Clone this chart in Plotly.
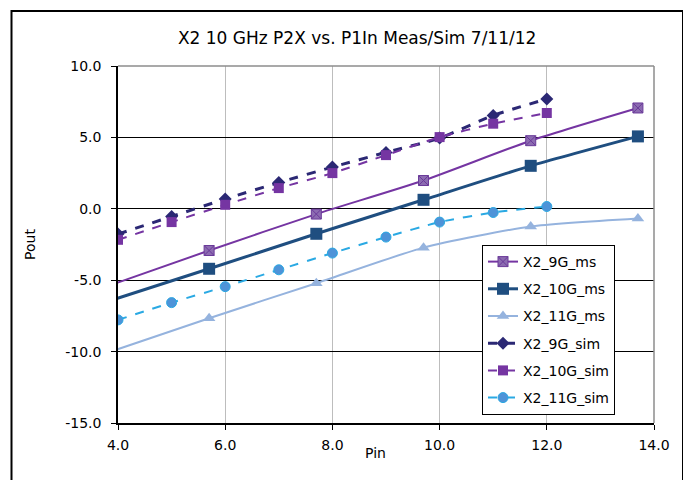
import plotly.graph_objects as go

# Measured data (first point at 3.7 lies left of the axis minimum and is clipped)
x_ms = [3.7, 5.7, 7.7, 9.7, 11.7, 13.7]
y_9g_ms = [-5.56, -2.92, -0.37, 1.98, 4.77, 7.06]
y_10g_ms = [-6.62, -4.20, -1.75, 0.63, 3.01, 5.07]
y_11g_ms = [-10.21, -7.66, -5.21, -2.72, -1.24, -0.68]

# Simulated data
x_sim = [4, 5, 6, 7, 8, 9, 10, 11, 12]
y_9g_sim = [-1.77, -0.54, 0.68, 1.84, 2.92, 3.95, 4.95, 6.54, 7.69]
y_10g_sim = [-2.17, -0.93, 0.28, 1.45, 2.50, 3.76, 5.02, 5.96, 6.71]
y_11g_sim = [-7.78, -6.57, -5.45, -4.27, -3.10, -1.98, -0.93, -0.26, 0.16]

x_ticks = [4, 6, 8, 10, 12, 14]
x_tick_labels = ["4.0", "6.0", "8.0", "10.0", "12.0", "14.0"]
y_ticks = [-15, -10, -5, 0, 5, 10]
y_tick_labels = ["-15.0", "-10.0", "-5.0", "0.0", "5.0", "10.0"]

FONT = "DejaVu Sans"

fig = go.Figure()

series = [
    ("X2_9G_ms", x_ms, y_9g_ms, dict(color="#7535A2", width=2, dash="solid"),
     dict(symbol="square-x", size=10, color="#8C6BB1", line=dict(color="#6A3A99", width=1))),
    ("X2_10G_ms", x_ms, y_10g_ms, dict(color="#1F4E80", width=3, dash="solid"),
     dict(symbol="square", size=12, color="#1F4E80", line=dict(color="#1F4E80", width=0))),
    ("X2_11G_ms", x_ms, y_11g_ms, dict(color="#95B3DE", width=2, dash="solid"),
     dict(symbol="triangle-up", size=11, color="#95B3DE", line=dict(width=0))),
    ("X2_9G_sim", x_sim, y_9g_sim, dict(color="#2B2874", width=3, dash="dash"),
     dict(symbol="diamond", size=10, color="#2B2874", line=dict(width=0))),
    ("X2_10G_sim", x_sim, y_10g_sim, dict(color="#7535A2", width=2, dash="dash"),
     dict(symbol="square", size=10, color="#7535A2", line=dict(width=0))),
    ("X2_11G_sim", x_sim, y_11g_sim, dict(color="#2AA9E3", width=2, dash="dash"),
     dict(symbol="circle", size=10, color="#4E93D8", line=dict(color="#2AA9E3", width=1))),
]

for i, (name, xs, ys, line, marker) in enumerate(series):
    fig.add_trace(go.Scatter(
        x=xs, y=ys, name=name, mode="lines+markers",
        line=dict(shape="spline", smoothing=0.6, **line),
        marker=marker, legendgroup=f"g{i}",
    ))

# The page body has an 8px margin, so work in reference pixels shifted by 8.
OFF = 8
W, H = 691 - OFF, 480 - OFF
L, T = 118 - OFF, 66 - OFF
R = W - (654 - OFF)
B = H - (423 - OFF)
pw, ph = W - L - R, H - T - B

def px_x(p):
    return (p - OFF - L) / pw

def px_y(p):
    return (H - B - (p - OFF)) / ph

fig.update_layout(
    width=W, height=H,
    margin=dict(l=L, r=R, t=T, b=B),
    paper_bgcolor="white", plot_bgcolor="white",
    font=dict(family=FONT, size=14, color="#000000"),
    title=dict(text="X2 10 GHz P2X vs. P1In Meas/Sim 7/11/12",
               x=px_x(392), xanchor="center", y=1 - (38 - OFF) / H, yanchor="middle",
               font=dict(family=FONT, size=17, color="#000000")),
    xaxis=dict(range=[4, 14], tickvals=x_ticks, ticktext=x_tick_labels,
               showgrid=True, gridcolor="#BDBDBD", gridwidth=1.3,
               showline=True, linecolor="#000000", linewidth=1.5,
               ticks="outside", ticklen=5, tickcolor="#000000",
               zeroline=False, ticklabelstandoff=3,
               tickfont=dict(family=FONT, size=14)),
    yaxis=dict(range=[-15, 10], tickvals=y_ticks, ticktext=y_tick_labels,
               showgrid=True, gridcolor="#000000", gridwidth=1,
               showline=True, linecolor="#000000", linewidth=1.5,
               ticks="outside", ticklen=5, tickcolor="#000000",
               zeroline=False, ticklabelstandoff=7,
               tickfont=dict(family=FONT, size=14)),
    legend=dict(x=px_x(482), y=px_y(245), xanchor="left", yanchor="top",
                bgcolor="white", bordercolor="#000000", borderwidth=1,
                font=dict(family=FONT, size=14), tracegroupgap=6,
                traceorder="grouped"),
    showlegend=True,
    annotations=[
        dict(text="Pin", x=px_x(375), y=px_y(453), xref="paper", yref="paper",
             xanchor="center", yanchor="middle",
             showarrow=False, font=dict(family=FONT, size=14)),
        dict(text="Pout", x=px_x(30), y=px_y(245), xref="paper", yref="paper",
             xanchor="center", yanchor="middle",
             showarrow=False, textangle=-90, font=dict(family=FONT, size=14)),
    ],
    shapes=[
        # outer chart border
        dict(type="rect", xref="paper", yref="paper",
             x0=px_x(11.5), x1=px_x(683), y0=px_y(484), y1=px_y(11),
             line=dict(color="#000000", width=2), layer="above"),
        # gray top and right plot-area border
        dict(type="line", xref="paper", yref="paper", x0=0, x1=1, y0=1, y1=1,
             line=dict(color="#8C8C8C", width=1.5), layer="above"),
        dict(type="line", xref="paper", yref="paper", x0=1, x1=1, y0=0, y1=1,
             line=dict(color="#8C8C8C", width=1.5), layer="above"),
    ],
)

fig.write_html("out.html")
